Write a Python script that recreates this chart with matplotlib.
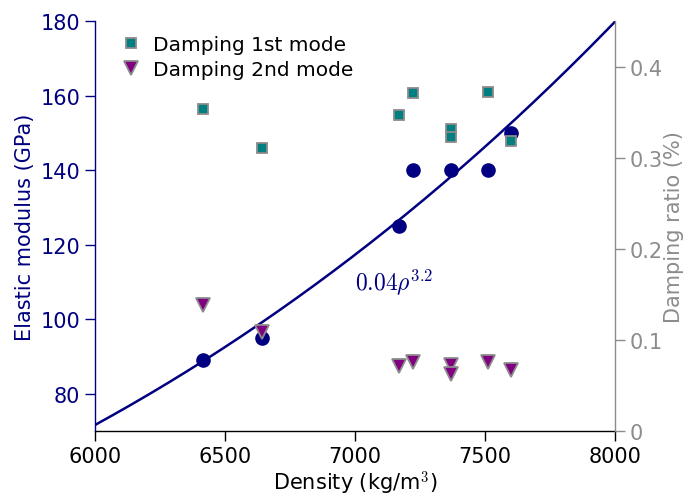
import numpy as np
import matplotlib
matplotlib.use("Agg")
import matplotlib.pyplot as plt

# Data
density_E = [6415, 6642, 7169, 7223, 7369, 7512, 7600]
modulus = [89, 95, 125, 140, 140, 140, 150]

density_d1 = [6415, 6642, 7169, 7223, 7369, 7369, 7512, 7600]
damping1 = [0.353, 0.311, 0.347, 0.371, 0.331, 0.323, 0.3725, 0.318]

density_d2 = [6415, 6642, 7169, 7223, 7369, 7369, 7512, 7600]
damping2 = [0.138, 0.109, 0.0714, 0.0758, 0.0725, 0.0626, 0.0758, 0.067]

fit_coef = 0.2317   # GPa, with density in g/cm^3
fit_exp = 3.2

navy = "#000080"
gray = "#8c8c8c"
teal = "#008080"
purple = "#800080"

plt.rcParams['font.family'] = ['DejaVu Sans']
plt.rcParams['mathtext.fontset'] = 'cm'

fig = plt.figure(figsize=(6.87, 5.02), dpi=100)
ax = fig.add_axes([95/687, 1 - 432/502, 520/687, 410/502])
ax2 = ax.twinx()

rho = np.linspace(6000, 8000, 200)
ax.plot(rho, fit_coef * (rho / 1000) ** fit_exp, color=navy, lw=1.8, zorder=2)
ax.plot(density_E, modulus, 'o', color=navy, ms=9.5, zorder=3)
ax.text(7000, 108, r"$0.04\rho^{3.2}$", color=navy, fontsize=17)

ax2.plot(density_d1, damping1, 's', mfc=teal, mec=gray, mew=1.3, ms=7.5,
         label="Damping 1st mode", linestyle='none')
ax2.plot(density_d2, damping2, 'v', mfc=purple, mec=gray, mew=1.3, ms=10,
         label="Damping 2nd mode", linestyle='none')

ax.set_xlim(6000, 8000)
ax.set_ylim(70, 180)
ax2.set_ylim(0, 0.45)
ax.set_xticks([6000, 6500, 7000, 7500, 8000])
ax.set_yticks([80, 100, 120, 140, 160, 180])
ax2.set_yticks([0, 0.1, 0.2, 0.3, 0.4])
ax2.set_yticklabels(["0", "0.1", "0.2", "0.3", "0.4"])

for a in (ax, ax2):
    a.spines['top'].set_visible(False)
ax2.spines['left'].set_visible(False)
ax2.spines['bottom'].set_visible(False)
ax.spines['right'].set_visible(False)
ax.spines['left'].set_color(navy)
ax.spines['bottom'].set_color('black')
ax2.spines['right'].set_color(gray)
for s in ('left', 'bottom'):
    ax.spines[s].set_linewidth(1.0)
ax2.spines['right'].set_linewidth(1.0)

ax.tick_params(axis='y', colors=navy, labelsize=15, length=7, direction='out', width=1)
ax.tick_params(axis='x', colors='black', labelsize=15, length=7, direction='out', width=1)
ax2.tick_params(axis='y', colors=gray, labelsize=15, length=7, direction='out', width=1)

ax.set_xlabel("Density (kg/m$^3$)", fontsize=15, color='black', labelpad=2)
ax.set_ylabel("Elastic modulus (GPa)", fontsize=15, color=navy, labelpad=4)
ax2.set_ylabel("Damping ratio (%)", fontsize=15, color=gray, labelpad=1)

leg = ax2.legend(loc='upper left', bbox_to_anchor=(0.03, 0.985), frameon=False,
                 fontsize=14.5, handletextpad=0.5, borderaxespad=0.0,
                 labelspacing=0.3, handlelength=1.2)

fig.savefig("out.png", dpi=100)
